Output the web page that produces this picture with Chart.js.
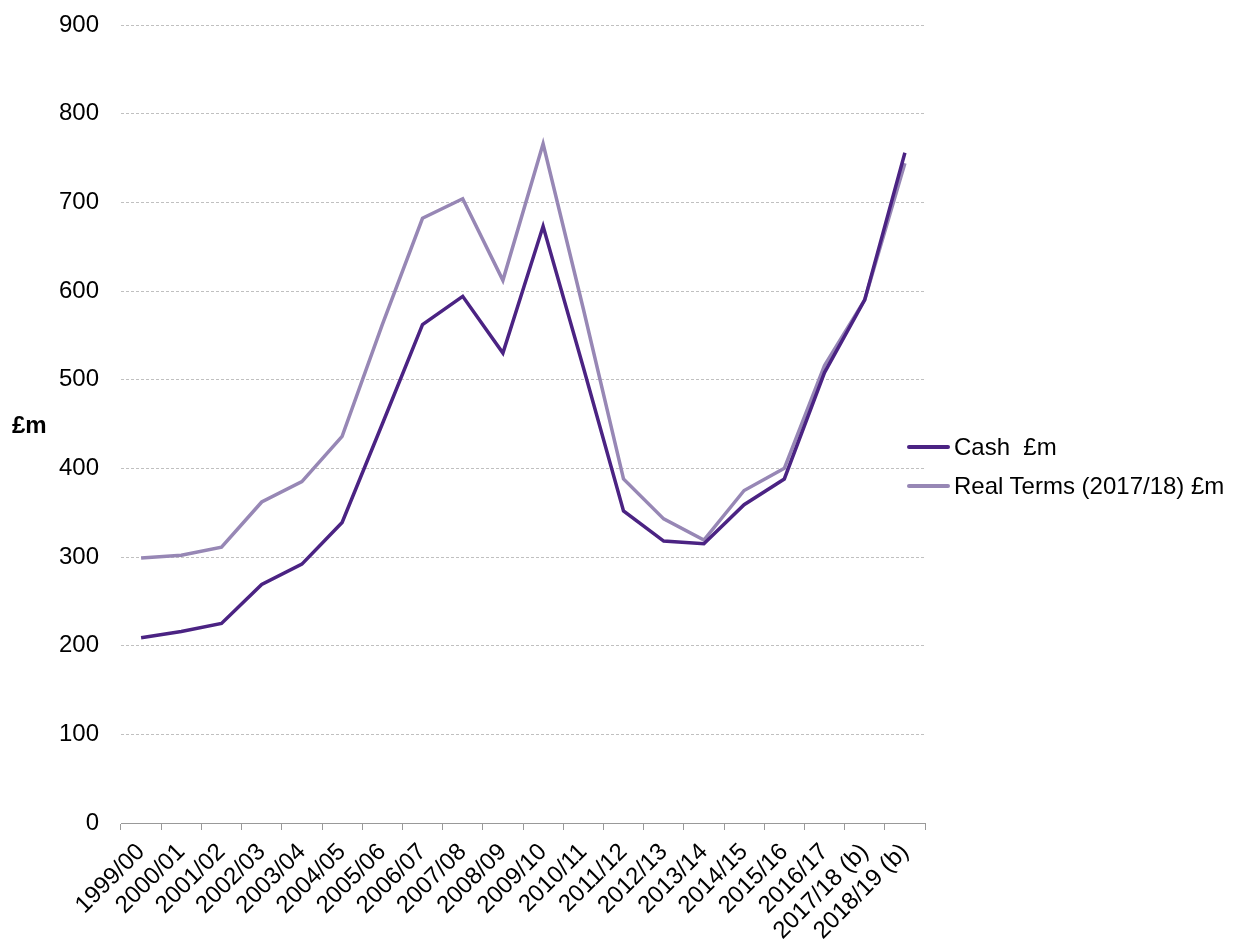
<!DOCTYPE html>
<html>
<head>
<meta charset="utf-8">
<script src="https://cdn.jsdelivr.net/npm/chart.js@4/dist/chart.umd.min.js"></script>
<style>
  body { margin: 0; background: #fff; font-family: "Liberation Sans", Arial, sans-serif; }
  #wrap { position: relative; width: 1241px; height: 943px; }
  #yTitle { position: absolute; left: 12px; top: 411px; font-size: 24px; font-weight: bold; line-height: 28px; }
  #legend { position: absolute; left: 907px; top: 427px; font-size: 24px; }
  .item { display: flex; align-items: center; height: 39px; white-space: pre; }
  .swatch { width: 43px; height: 4px; border-radius: 2px; margin-right: 4px; }
</style>
</head>
<body>
<div id="wrap">
  <canvas id="chart" width="1241" height="943"></canvas>
  <div id="yTitle">£m</div>
  <div id="legend"></div>
</div>
<script>
// financial years
const years = ['1999/00', '2000/01', '2001/02', '2002/03', '2003/04', '2004/05', '2005/06',
  '2006/07', '2007/08', '2008/09', '2009/10', '2010/11', '2011/12', '2012/13', '2013/14',
  '2014/15', '2015/16', '2016/17', '2017/18 (b)', '2018/19 (b)'];

// cash, £m
const cash = [209, 216, 225, 269, 292, 339, 450, 562, 594, 530, 673, 514,
  352, 318, 315, 359, 388, 508, 590, 756];

// real terms (2017/18 prices), £m
const realTerms = [299, 302, 311, 362, 385, 436, 562, 682, 704, 612, 766, 580,
  388, 343, 319, 375, 400, 516, 590, 744];

const yTicks = [0, 100, 200, 300, 400, 500, 600, 700, 800, 900];

const font = { size: 24, family: '"Liberation Sans", Arial' };

const ctx = document.getElementById('chart').getContext('2d');
const chart = new Chart(ctx, {
  type: 'line',
  data: {
    labels: years,
    datasets: [
      { label: 'Cash  £m', data: cash, borderColor: '#4b2383', borderWidth: 3.5, pointRadius: 0, tension: 0 },
      { label: 'Real Terms (2017/18) £m', data: realTerms, borderColor: '#9787b5', borderWidth: 3.5, pointRadius: 0, tension: 0 },
    ],
  },
  options: {
    responsive: false,
    animation: false,
    layout: { padding: { top: 25, right: 316, left: 0, bottom: 0 } },
    plugins: { legend: { display: false }, tooltip: { enabled: false } },
    scales: {
      x: {
        offset: true,
        grid: { display: true, offset: true, drawOnChartArea: false, drawTicks: true, tickLength: 7, color: '#999' },
        border: { display: true, color: '#999', width: 1 },
        ticks: { autoSkip: false, maxRotation: 45, minRotation: 45, padding: 8, color: '#000', font },
        afterFit: (scale) => { scale.height = 120; },
      },
      y: {
        min: 0, max: 900,
        afterBuildTicks: (scale) => { scale.ticks = yTicks.map(v => ({ value: v })); },
        // invisible tick marks give the gap between labels and plot
        grid: { color: '#c0c0c0', drawTicks: true, tickLength: 22, tickColor: 'rgba(0,0,0,0)' },
        border: { display: false, dash: [3, 2] },
        ticks: { padding: 0, color: '#000', font },
        afterFit: (scale) => { scale.width = 121; },
      },
    },
  },
});

// legend built from the datasets
const legend = document.getElementById('legend');
chart.data.datasets.forEach(ds => {
  const item = document.createElement('div');
  item.className = 'item';
  const sw = document.createElement('span');
  sw.className = 'swatch';
  sw.style.background = ds.borderColor;
  item.appendChild(sw);
  item.appendChild(document.createTextNode(ds.label));
  legend.appendChild(item);
});
</script>
</body>
</html>
